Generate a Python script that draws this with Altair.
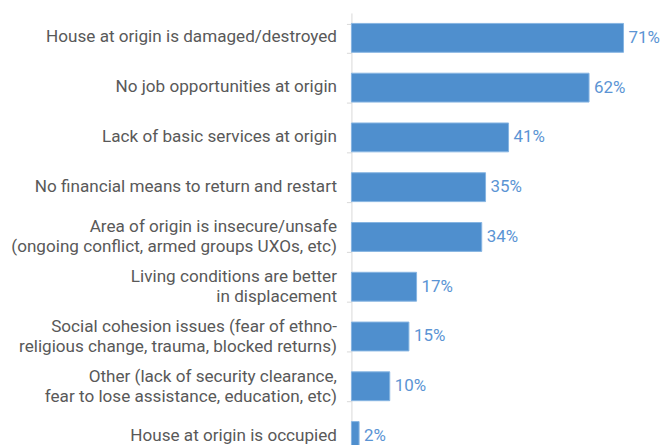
import altair as alt
import pandas as pd

categories = [
    "House at origin is damaged/destroyed",
    "No job opportunities at origin",
    "Lack of basic services at origin",
    "No financial means to return and restart",
    "Area of origin is insecure/unsafe \n(ongoing conflict, armed groups UXOs, etc)",
    "Living conditions are better \nin displacement",
    "Social cohesion issues (fear of ethno-\nreligious change, trauma, blocked returns)",
    "Other (lack of security clearance, \nfear to lose assistance, education, etc)",
    "House at origin is occupied",
]
values = [0.71, 0.62, 0.41, 0.35, 0.34, 0.17, 0.15, 0.10, 0.02]

df = pd.DataFrame({"reason": categories, "share": values})

y_enc = alt.Y(
    "reason:N",
    sort=categories,
    title=None,
    scale=alt.Scale(paddingInner=0.42, paddingOuter=0.21, range=[0, 450]),
    axis=alt.Axis(
        labelExpr="isValid(datum.value) ? split(datum.value, '\\n') : ''",
        labelFont="Roboto",
        labelFontSize=17.2,
        labelColor="#595959",
        labelLineHeight=20,
        labelPadding=10,
        labelLimit=400,
        labelOffset={
            "condition": {"test": "isValid(datum.value) && indexof(datum.value, '\\n') >= 0", "value": -10},
            "value": -1,
        },
        tickBand="extent",
        tickSize=5,
        tickColor="#d9d9d9",
        domainColor="#d9d9d9",
        labelBaseline="middle",
    ),
)
x_enc = alt.X(
    "share:Q",
    scale=alt.Scale(domain=[0, 0.8]),
    axis=None,
)

bars = alt.Chart(df).mark_bar(
    color="#4f8fce", stroke="#86b4e2", strokeWidth=1
).encode(x=x_enc, y=y_enc)

labels = alt.Chart(df).mark_text(
    align="left", baseline="middle", dx=5, font="Roboto", fontSize=17, color="#5b94d4"
).encode(x=x_enc, y=y_enc, text=alt.Text("share:Q", format=".0%"))

chart = (
    alt.layer(bars, labels)
    .properties(
        width=308,
        height=433,
        autosize=alt.AutoSizeParams(type="none"),
        padding={"left": 345, "top": 4, "right": 4, "bottom": 0},
    )
    .configure_view(stroke=None)
    .configure_axis(grid=False)
)

chart.save("out.html", embed_options={"renderer": "svg", "actions": False})
